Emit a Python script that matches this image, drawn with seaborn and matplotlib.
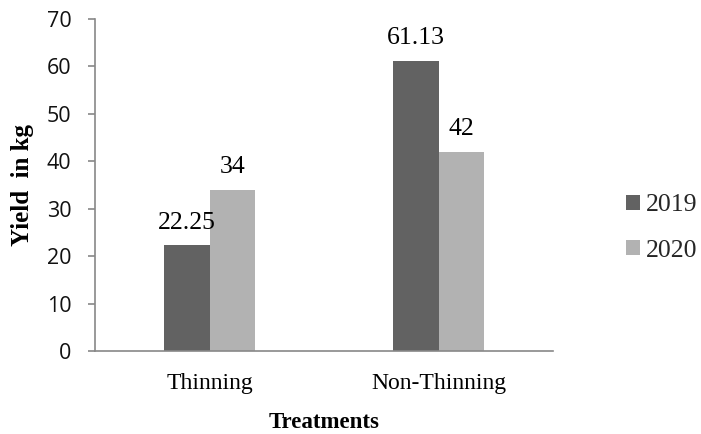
import matplotlib
matplotlib.use("Agg")
import matplotlib.pyplot as plt
import seaborn as sns
import pandas as pd

categories = ["Thinning", "Non-Thinning"]
years = ["2019", "2020"]
values_2019 = [22.25, 61.13]
values_2020 = [34, 42]
value_labels_2019 = ["22.25", "61.13"]
value_labels_2020 = ["34", "42"]
yticks = [0, 10, 20, 30, 40, 50, 60, 70]

df = pd.DataFrame({
    "Treatment": categories * 2,
    "Year": [years[0]] * 2 + [years[1]] * 2,
    "Yield": values_2019 + values_2020,
})

sns.set_theme(style="white")
plt.rcParams["font.family"] = ["Liberation Serif", "DejaVu Serif"]

fig = plt.figure(figsize=(7.01, 4.34), dpi=100)
ax = fig.add_axes([95 / 701, 1 - 351 / 434, (553 - 95) / 701, (351 - 19) / 434])

palette = {"2019": "#626262", "2020": "#b2b2b2"}
sns.barplot(data=df, x="Treatment", y="Yield", hue="Year", order=categories,
            hue_order=years, palette=palette, width=0.4, gap=0, ax=ax,
            saturation=1, errorbar=None, edgecolor="none", linewidth=0)

for cont, labels in zip(ax.containers, [value_labels_2019, value_labels_2020]):
    ax.bar_label(cont, labels=labels, padding=8.6, fontsize=18.5,
                 family="Liberation Serif", color="black")

ax.set_ylim(0, 70)
ax.set_yticks(yticks)
ax.set_yticklabels([str(t) for t in yticks], family="Open Sans", fontsize=15.5,
                   color="#111111")
ax.tick_params(axis="y", length=5, width=1.2, color="#888888", pad=12, left=True)
ax.tick_params(axis="x", length=0, pad=16, labelsize=17)
for lab in ax.get_xticklabels():
    lab.set_family("Liberation Serif")
    lab.set_color("black")

for s in ["top", "right"]:
    ax.spines[s].set_visible(False)
for s in ["left", "bottom"]:
    ax.spines[s].set_color("#888888")
    ax.spines[s].set_linewidth(1.2)

ax.set_xlabel("Treatments", fontsize=16.5, fontweight="bold",
              family="Liberation Serif", labelpad=13, color="black")
ax.set_ylabel("Yield  in kg", fontsize=18, fontweight="bold",
              family="Liberation Serif", labelpad=9, color="black")

ax.legend(loc="center left", bbox_to_anchor=(626 / 701, 1 - 228 / 434),
          bbox_transform=fig.transFigure, frameon=False,
          handlelength=0.54, handleheight=0.54, handletextpad=0.25,
          labelspacing=0.9, borderpad=0, borderaxespad=0,
          prop={"family": "Liberation Serif", "size": 18.5})

fig.savefig("out.png", dpi=100)
